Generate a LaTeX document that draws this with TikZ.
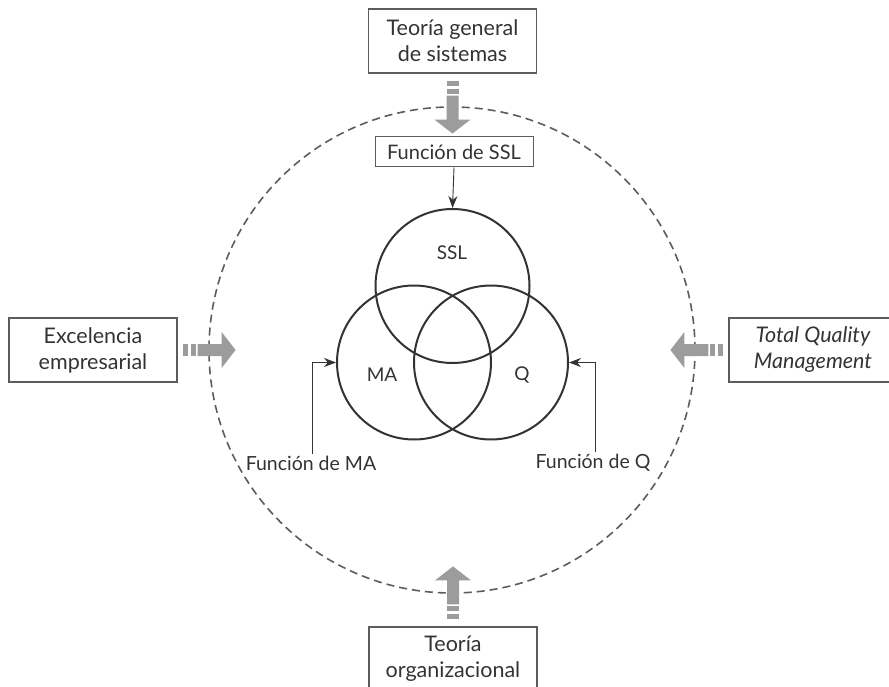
\documentclass[tikz,border=0pt]{standalone}
\usepackage{fontspec}
\setmainfont{Lato}
\usepackage{tikz}
\usetikzlibrary{arrows.meta,calc}

\definecolor{texto}{HTML}{333333}
\definecolor{borde}{HTML}{5C5C5C}
\definecolor{grisflecha}{HTML}{9C9C9D}

\tikzset{
  caja/.style={draw=borde,line width=1.2pt,text=texto,align=center,
    minimum width=168pt,minimum height=64pt,inner sep=0pt,
    font=\fontsize{21.5}{26}\selectfont},
  cajita/.style={draw=borde,line width=1pt,text=texto,
    minimum width=158pt,minimum height=30pt,inner sep=0pt,
    font=\fontsize{20}{24}\selectfont},
  venn/.style={circle,draw=texto,line width=2pt,minimum size=154pt,inner sep=0pt},
  etiq/.style={text=texto,font=\fontsize{19}{22}\selectfont},
  funcion/.style={text=texto,inner sep=2pt,font=\fontsize{19.5}{23}\selectfont},
  fino/.style={draw=texto,line width=0.9pt,-{Stealth[length=12pt,width=9pt]}},
}

% flecha gruesa gris: #1 punto de partida, #2 angulo
\newcommand{\flechagris}[2]{%
  \begin{scope}[shift={#1},rotate=#2]
    \fill[grisflecha] (0,-6) rectangle (5,6);
    \fill[grisflecha] (8,-6) rectangle (13,6);
    \fill[grisflecha] (15,-6) -- (39,-6) -- (39,-18) -- (53,0)
      -- (39,18) -- (39,6) -- (15,6) -- cycle;
  \end{scope}}

\begin{document}
\begin{tikzpicture}[x=1pt,y=-1pt]
    \useasboundingbox (0,0) rectangle (889,687);

    % entorno
    \node[circle,draw=borde,line width=1.6pt,dash pattern=on 8pt off 5pt,
          minimum size=486pt] (entorno) at (452,350) {};

    % cajas exteriores
    \node[caja] (tgs) at (452.5,41) {Teoría general\\de sistemas};
    \node[caja] (excel) at (93,350) {Excelencia\\empresarial};
    \node[caja] (tqm) at (813,350) {\itshape Total Quality\\\itshape Management};
    \node[caja] (torg) at (453,659) {Teoría\\organizacional};

    \flechagris{($(tgs.south)+(0,7)$)}{-90}
    \flechagris{($(excel.east)+(5,0)$)}{0}
    \flechagris{($(tqm.west)-(5,0)$)}{180}
    \flechagris{($(torg.north)-(0,7)$)}{90}

    % diagrama de Venn
    \node[venn] (cSSL) at (452.5,286) {};
    \node[venn] (cMA) at (414,362.5) {};
    \node[venn] (cQ) at (491,362.5) {};
    \node[etiq] (lSSL) at (452,253) {SSL};
    \node[etiq] (lMA) at (382,375) {MA};
    \node[etiq] (lQ) at (522,375) {Q};

    % funciones
    \node[cajita] (fSSL) at (454,152) {Función de SSL};
    \node[funcion] (fMA) at (311,463) {Función de MA};
    \node[funcion] (fQ) at (593,463) {Función de Q};

    \draw[fino] (fSSL.south) -- (cSSL.north);
    \draw[fino] ([xshift=1pt]fMA.north) |- (cMA.west);
    \draw[fino] ([xshift=2pt]fQ.north) |- (cQ.east);
\end{tikzpicture}
\end{document}
